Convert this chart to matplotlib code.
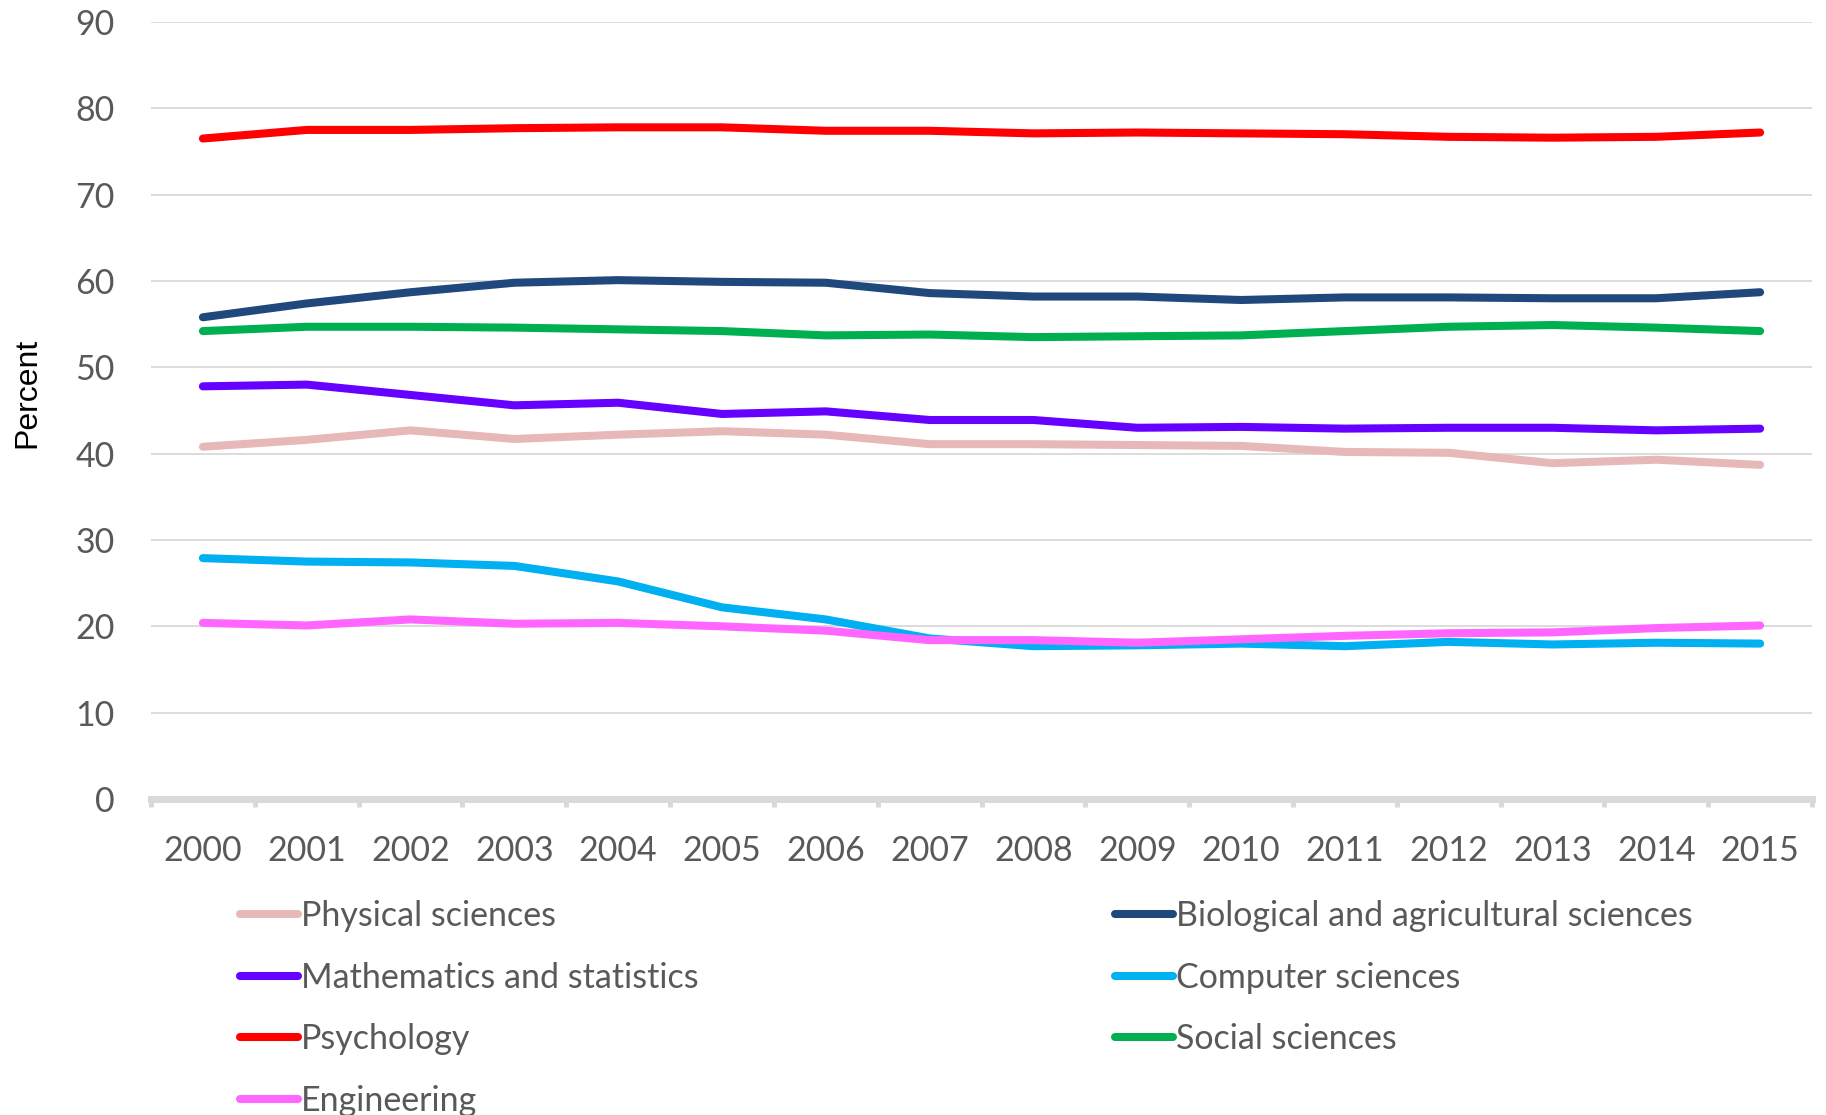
import matplotlib.pyplot as plt
from matplotlib.ticker import FixedLocator

# data (percent)
years = [str(y) for y in range(2000, 2016)]
physical = [40.8, 41.6, 42.7, 41.7, 42.2, 42.6, 42.2, 41.1, 41.1, 41.0, 40.9, 40.2, 40.1, 38.9, 39.3, 38.7]
biological = [55.8, 57.4, 58.7, 59.8, 60.1, 59.9, 59.8, 58.6, 58.2, 58.2, 57.8, 58.1, 58.1, 58.0, 58.0, 58.7]
maths = [47.8, 48.0, 46.8, 45.6, 45.9, 44.6, 44.9, 43.9, 43.9, 43.0, 43.1, 42.9, 43.0, 43.0, 42.7, 42.9]
computer = [27.9, 27.5, 27.4, 27.0, 25.2, 22.2, 20.8, 18.6, 17.7, 17.8, 18.0, 17.7, 18.2, 17.9, 18.1, 18.0]
psychology = [76.5, 77.5, 77.5, 77.7, 77.8, 77.8, 77.4, 77.4, 77.1, 77.2, 77.1, 77.0, 76.7, 76.6, 76.7, 77.2]
social = [54.2, 54.7, 54.7, 54.6, 54.4, 54.2, 53.7, 53.8, 53.5, 53.6, 53.7, 54.2, 54.7, 54.9, 54.6, 54.2]
engineering = [20.4, 20.1, 20.8, 20.3, 20.4, 20.0, 19.5, 18.4, 18.4, 18.1, 18.5, 18.9, 19.2, 19.3, 19.8, 20.1]

names = ['Physical sciences', 'Biological and agricultural sciences', 'Mathematics and statistics',
         'Computer sciences', 'Psychology', 'Social sciences', 'Engineering']
series = [physical, biological, maths, computer, psychology, social, engineering]
colors = ['#E6B9B8', '#1F497D', '#6600FF', '#00B0F0', '#FF0000', '#00B050', '#FF66FF']

plt.rcParams['font.family'] = ['Lato', 'DejaVu Sans']
grey = '#595959'
light = '#D9D9D9'

fig = plt.figure(figsize=(18.26, 11.15), dpi=100)
ax = fig.add_axes([151/1826, 1 - 799/1115, (1812 - 151)/1826, (799 - 22)/1115])

x = list(range(len(years)))
lines = {}
for name, vals, c in zip(names, series, colors):
    ln, = ax.plot(x, vals, color=c, lw=5.8, solid_capstyle='round', label=name)
    lines[name] = ln

ax.set_xlim(-0.5, 15.5)
ax.set_ylim(0, 90)
ax.set_yticks(range(0, 91, 10))
ax.yaxis.grid(True, color=light, lw=1.3)
ax.set_axisbelow(True)
for s in ['top', 'right', 'left']:
    ax.spines[s].set_visible(False)
ax.spines['bottom'].set_color(light)
ax.spines['bottom'].set_linewidth(5)

# boundary ticks (no labels) + category labels on minor ticks
ax.xaxis.set_major_locator(FixedLocator([i - 0.5 for i in range(len(years) + 1)]))
ax.xaxis.set_minor_locator(FixedLocator(x))
ax.set_xticklabels([])
ax.set_xticklabels(years, minor=True)
ax.tick_params(axis='x', which='major', length=6, width=3.6, color=light, direction='out')
ax.tick_params(axis='x', which='minor', length=0, pad=26, labelsize=24.5, labelcolor=grey)
ax.tick_params(axis='y', length=0, pad=26, labelsize=24.5, labelcolor=grey)

fig.text(27/1826, 1 - 393/1115, 'Percent', rotation=90, ha='center', va='center',
         fontsize=23, family=['Liberation Sans', 'DejaVu Sans'], color='black')

col1 = ['Physical sciences', 'Mathematics and statistics', 'Psychology', 'Engineering']
col2 = ['Biological and agricultural sciences', 'Computer sciences', 'Social sciences']
leg_kw = dict(loc='upper left', frameon=False, fontsize=24.5, labelcolor=grey,
              handlelength=1.7, handletextpad=0.1, labelspacing=0.87, borderpad=0, borderaxespad=0)
fig.legend([lines[n] for n in col1], col1, bbox_to_anchor=(240/1826, 1 - 900/1115), **leg_kw)
fig.legend([lines[n] for n in col2], col2, bbox_to_anchor=(1115/1826, 1 - 900/1115), **leg_kw)

plt.savefig('out.png', dpi=100)
